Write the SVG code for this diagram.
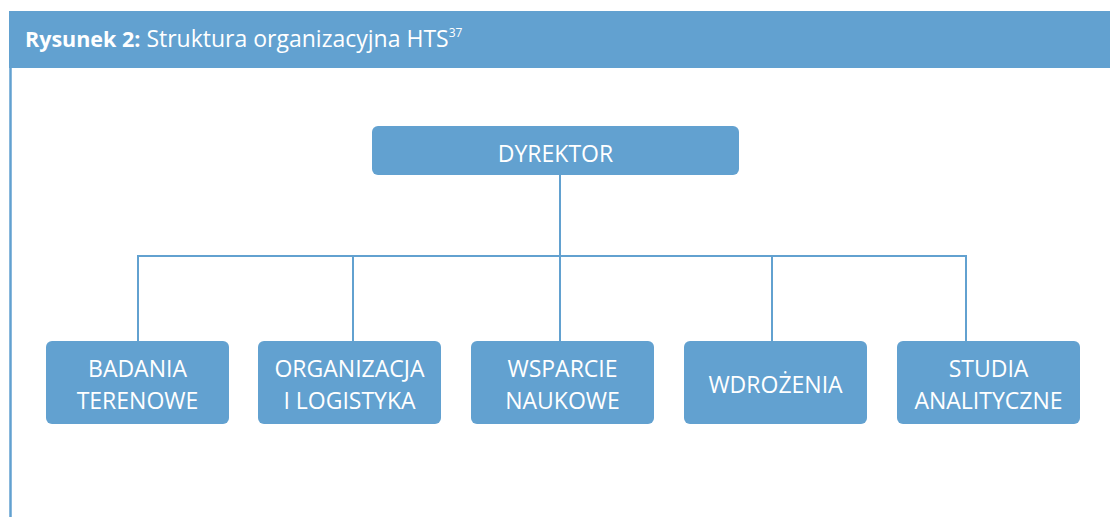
<svg xmlns="http://www.w3.org/2000/svg" width="1110" height="517" viewBox="0 0 1110 517">
<style>
.box{fill:#62a1d0;}
.lbl{font-family:"Open Sans","Noto Sans",sans-serif;font-size:23px;fill:#ffffff;text-anchor:middle;}
.con{stroke:#62a1d0;stroke-width:2;fill:none;}
.hdr{font-family:"Open Sans","Noto Sans",sans-serif;font-size:23px;fill:#ffffff;}
</style>
<rect x="0" y="0" width="1110" height="517" fill="#ffffff"/>
<rect x="9" y="11" width="1101" height="57" fill="#62a1d0"/>
<line x1="10.5" y1="68" x2="10.5" y2="517" stroke="#62a1d0" stroke-width="2.5"/>
<text class="hdr" x="25" y="47"><tspan font-weight="bold" font-size="21.5">Rysunek 2:</tspan> Struktura organizacyjna HTS<tspan font-size="12" dy="-10">37</tspan></text>
<g id="connectors">
<line class="con" x1="560" y1="175" x2="560" y2="256"/>
<line class="con" x1="137" y1="256" x2="967" y2="256"/>
<line class="con" x1="138" y1="256" x2="138" y2="341"/>
<line class="con" x1="353" y1="256" x2="353" y2="341"/>
<line class="con" x1="560" y1="256" x2="560" y2="341"/>
<line class="con" x1="772" y1="256" x2="772" y2="341"/>
<line class="con" x1="966" y1="256" x2="966" y2="341"/>
</g>
<g id="dyrektor">
<rect class="box" x="372" y="126" width="367" height="49" rx="6"/>
<text class="lbl" x="555.5" y="162">DYREKTOR</text>
</g>
<g id="badania">
<rect class="box" x="46" y="341" width="183" height="83" rx="6"/>
<text class="lbl" x="137.5" y="377">BADANIA</text>
<text class="lbl" x="137.5" y="409">TERENOWE</text>
</g>
<g id="organizacja">
<rect class="box" x="258" y="341" width="183" height="83" rx="6"/>
<text class="lbl" x="349.5" y="377">ORGANIZACJA</text>
<text class="lbl" x="349.5" y="409">I LOGISTYKA</text>
</g>
<g id="wsparcie">
<rect class="box" x="471" y="341" width="183" height="83" rx="6"/>
<text class="lbl" x="562.5" y="377">WSPARCIE</text>
<text class="lbl" x="562.5" y="409">NAUKOWE</text>
</g>
<g id="wdrozenia">
<rect class="box" x="684" y="341" width="183" height="83" rx="6"/>
<text class="lbl" x="775.5" y="393">WDROŻENIA</text>
</g>
<g id="studia">
<rect class="box" x="897" y="341" width="183" height="83" rx="6"/>
<text class="lbl" x="988.5" y="377">STUDIA</text>
<text class="lbl" x="988.5" y="409">ANALITYCZNE</text>
</g>
</svg>
